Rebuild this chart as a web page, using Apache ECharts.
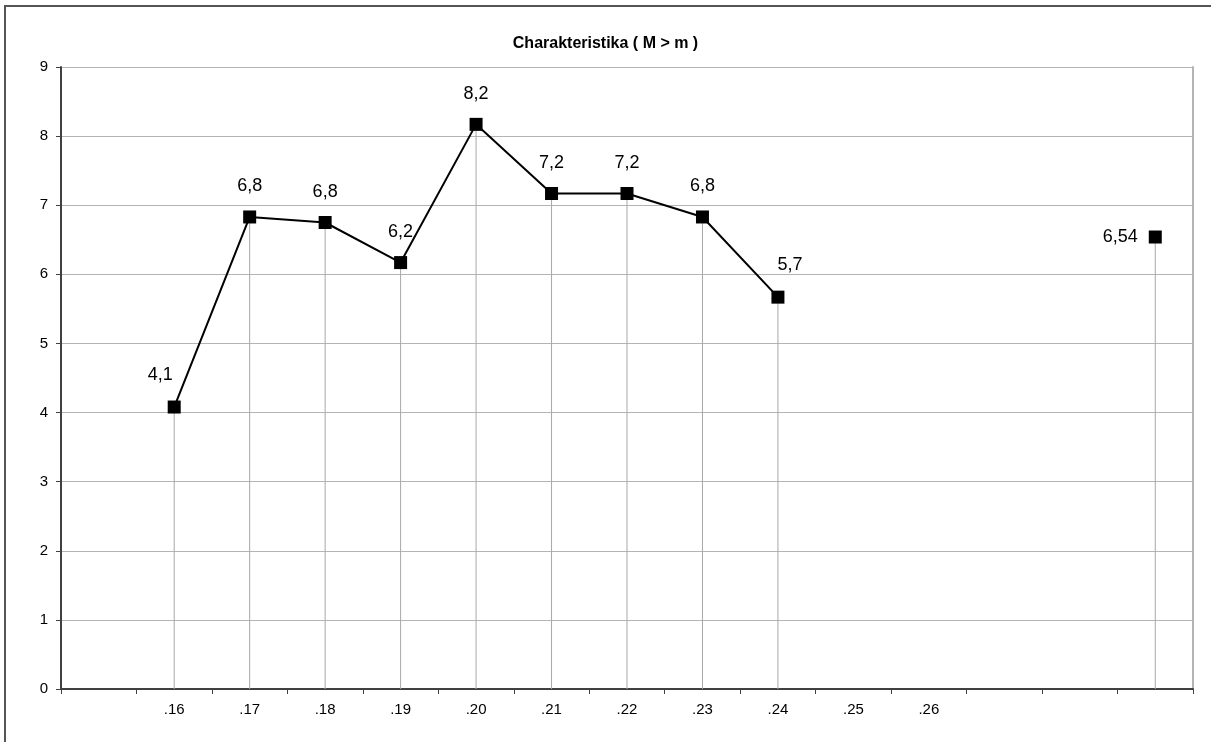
<!DOCTYPE html>
<html>
<head>
<meta charset="utf-8">
<script src="https://cdn.jsdelivr.net/npm/echarts@6/dist/echarts.min.js"></script>
<style>
html,body{margin:0;padding:0;background:#fff;}
#chart{width:1211px;height:742px;}
</style>
</head>
<body>
<div id="chart"></div>
<script>
// Data
var categories = ['', '.16', '.17', '.18', '.19', '.20', '.21', '.22', '.23', '.24', '.25', '.26', '', '', ''];
var mainValues = [null, 4.08, 6.83, 6.75, 6.17, 8.17, 7.17, 7.17, 6.83, 5.67, null, null, null, null, null];
var extraValues = [null, null, null, null, null, null, null, null, null, null, null, null, null, null, 6.54];
var yTicks = [0, 1, 2, 3, 4, 5, 6, 7, 8, 9];
var titleText = 'Charakteristika ( M > m )';

var dropValues = mainValues.map(function (v, i) { return v != null ? v : extraValues[i]; });

function fmt(v, d) { return v.toFixed(d).replace('.', ','); }

var labelOffsets = { 1: [-14, -1], 9: [12, -2] };
var mainData = mainValues.map(function (v, i) {
  if (v == null) return null;
  var item = { value: v };
  if (labelOffsets[i]) item.label = { offset: labelOffsets[i] };
  return item;
});

var chart = echarts.init(document.getElementById('chart'), null, { renderer: 'canvas' });
var axisColor = '#404040';
var gridColor = '#b4b4b4';
var font = 'Liberation Sans, Arial, sans-serif';
chart.setOption({
  animation: false,
  backgroundColor: '#fff',
  title: {
    text: titleText, left: 'center', top: 31,
    textStyle: { fontFamily: font, fontSize: 16, fontWeight: 'bold', color: '#000' }
  },
  graphic: [{
    type: 'rect', shape: { x: 5, y: 6, width: 1400, height: 900 },
    style: { fill: 'none', stroke: '#555', lineWidth: 2 }, silent: true, z: 100
  }],
  grid: { left: 61, right: 18, top: 67, bottom: 53, containLabel: false },
  xAxis: {
    type: 'category', data: categories, boundaryGap: true,
    axisLine: { show: true, onZero: false, lineStyle: { color: axisColor, width: 2 } },
    axisTick: { show: true, interval: 0, length: 5, lineStyle: { color: axisColor, width: 1 } },
    axisLabel: { interval: 0, margin: 13, color: '#000', fontFamily: font, fontSize: 15 },
    splitLine: { show: false }
  },
  yAxis: [{
    type: 'value', min: 0, max: 9, interval: 1,
    axisLine: { show: true, lineStyle: { color: axisColor, width: 2 } },
    axisTick: { show: true, length: 5, lineStyle: { color: axisColor } },
    axisLabel: {
      margin: 13, color: '#000', fontFamily: font, fontSize: 15,
      formatter: function (v) { return yTicks.indexOf(v) >= 0 ? String(v) : ''; }
    },
    splitLine: { show: true, lineStyle: { color: gridColor, width: 1 } }
  }, {
    type: 'value', min: 0, max: 9, interval: 1, position: 'right',
    axisLine: { show: true, lineStyle: { color: gridColor, width: 2 } },
    axisTick: { show: false }, axisLabel: { show: false }, splitLine: { show: false }
  }],
  series: [{
    type: 'bar', data: dropValues, barWidth: 1, silent: true,
    itemStyle: { color: '#a8a8a8' }, z: 1
  }, {
    type: 'line', data: mainData, connectNulls: false,
    symbol: 'rect', symbolSize: 13,
    lineStyle: { color: '#000', width: 2 },
    itemStyle: { color: '#000' },
    label: {
      show: true, position: 'top', distance: 15, color: '#000',
      fontFamily: font, fontSize: 18,
      formatter: function (p) { return fmt(p.value, 1); }
    },
    z: 3
  }, {
    type: 'line', data: extraValues,
    symbol: 'rect', symbolSize: 13,
    lineStyle: { width: 0 },
    itemStyle: { color: '#000' },
    label: {
      show: true, position: 'left', distance: 11, color: '#000',
      fontFamily: font, fontSize: 18,
      formatter: function (p) { return fmt(p.value, 2); }
    },
    z: 3
  }]
});
</script>
</body>
</html>
